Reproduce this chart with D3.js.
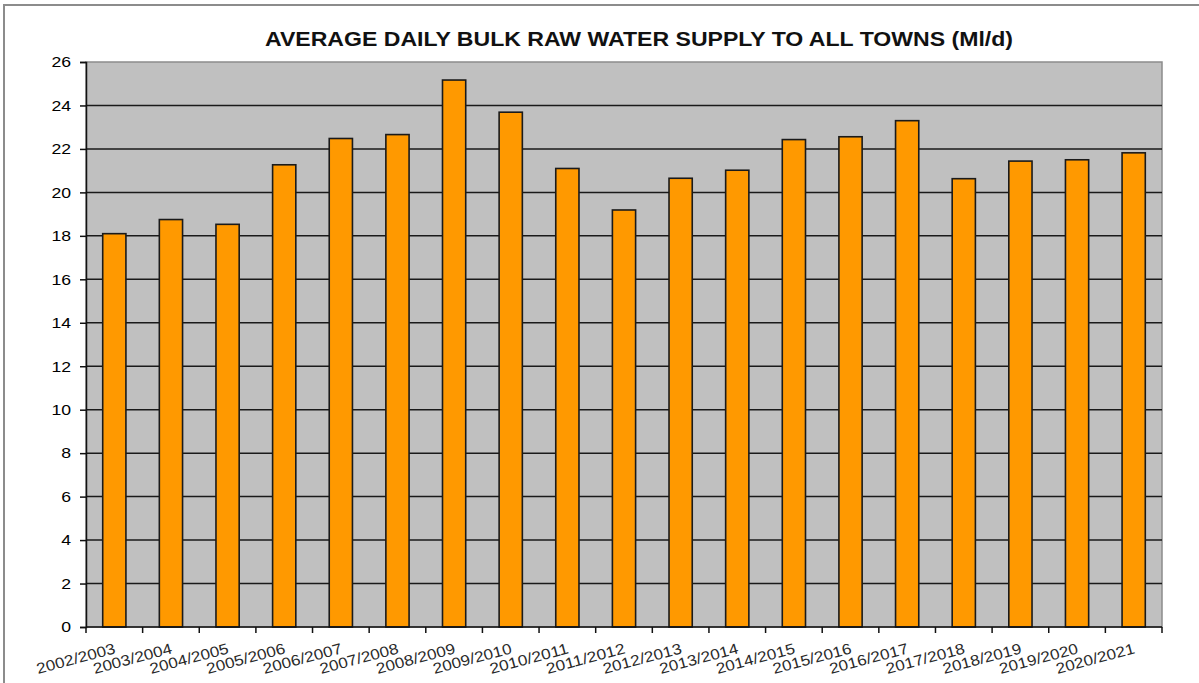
<!DOCTYPE html>
<html>
<head>
<meta charset="utf-8">
<script src="https://cdn.jsdelivr.net/npm/d3@7"></script>
<style>
  body { margin: 0; background: #fff; }
  svg { display: block; font-family: "Liberation Sans", Arial, sans-serif; }
</style>
</head>
<body>
<div class="box"></div>
<script>
// data
const years = ['2002/2003', '2003/2004', '2004/2005', '2005/2006', '2006/2007',
  '2007/2008', '2008/2009', '2009/2010', '2010/2011', '2011/2012', '2012/2013',
  '2013/2014', '2014/2015', '2015/2016', '2016/2017', '2017/2018', '2018/2019',
  '2019/2020', '2020/2021'];
const supply = [18.1, 18.75, 18.53, 21.27, 22.48, 22.66, 25.17, 23.69, 21.1, 19.19,
  20.65, 21.02, 22.43, 22.56, 23.3, 20.63, 21.44, 21.5, 21.82];
const yTicks = [0, 2, 4, 6, 8, 10, 12, 14, 16, 18, 20, 22, 24, 26];
const title = 'AVERAGE DAILY BULK RAW WATER SUPPLY TO ALL TOWNS (Ml/d)';

const width = 1199, height = 683;
const plot = { left: 86, right: 1162, top: 62, bottom: 627 };

const svg = d3.select('.box').append('svg')
  .attr('width', width)
  .attr('height', height);

// outer chart frame
svg.append('rect')
  .attr('x', 4).attr('y', 5)
  .attr('width', 1300).attr('height', 800)
  .attr('fill', 'none')
  .attr('stroke', '#8c8c8c')
  .attr('stroke-width', 2);

svg.append('text')
  .attr('x', 639).attr('y', 46)
  .attr('text-anchor', 'middle')
  .attr('font-size', 21)
  .attr('font-weight', 'bold')
  .attr('fill', '#111')
  .attr('textLength', 748)
  .attr('lengthAdjust', 'spacingAndGlyphs')
  .text(title);

const x = d3.scaleBand()
  .domain(years)
  .range([plot.left, plot.right])
  .paddingInner(0.59)
  .paddingOuter(0.295);

const y = d3.scaleLinear()
  .domain([0, 26])
  .range([plot.bottom, plot.top]);

// plot area
svg.append('rect')
  .attr('x', plot.left).attr('y', plot.top)
  .attr('width', plot.right - plot.left)
  .attr('height', plot.bottom - plot.top)
  .attr('fill', '#c0c0c0')
  .attr('stroke', '#8c8c8c')
  .attr('stroke-width', 1.5);

// gridlines
svg.append('g')
  .selectAll('line')
  .data(yTicks.filter(d => d > 0 && d < 26))
  .join('line')
  .attr('x1', plot.left).attr('x2', plot.right)
  .attr('y1', d => y(d)).attr('y2', d => y(d))
  .attr('stroke', '#1a1a1a')
  .attr('stroke-width', 1.5);

// bars
svg.append('g')
  .selectAll('rect')
  .data(supply)
  .join('rect')
  .attr('x', (d, i) => x(years[i]))
  .attr('y', d => y(d))
  .attr('width', x.bandwidth())
  .attr('height', d => y(0) - y(d))
  .attr('fill', '#ff9900')
  .attr('stroke', '#1a1a1a')
  .attr('stroke-width', 1.6);

// y axis
const yAxis = svg.append('g')
  .attr('transform', `translate(${plot.left},0)`)
  .call(d3.axisLeft(y).tickValues(yTicks).tickSize(6).tickPadding(9));
yAxis.select('.domain').attr('stroke', '#111').attr('stroke-width', 1.5);
yAxis.selectAll('.tick line').attr('stroke', '#111').attr('stroke-width', 1.5);
yAxis.selectAll('.tick text')
  .attr('font-size', 15)
  .attr('fill', '#000')
  .attr('font-family', '"Liberation Sans", Arial, sans-serif')
  .attr('textLength', d => String(d).length * 9.8)
  .attr('lengthAdjust', 'spacingAndGlyphs');

// x axis line and ticks at band boundaries
const step = x.step();
const boundaries = d3.range(years.length + 1).map(i => plot.left + i * step);
svg.append('line')
  .attr('x1', plot.left).attr('x2', plot.right)
  .attr('y1', plot.bottom).attr('y2', plot.bottom)
  .attr('stroke', '#111').attr('stroke-width', 1.5);
svg.append('g')
  .selectAll('line')
  .data(boundaries)
  .join('line')
  .attr('x1', d => d).attr('x2', d => d)
  .attr('y1', plot.bottom).attr('y2', plot.bottom + 6)
  .attr('stroke', '#111').attr('stroke-width', 1.5);

// x labels, rotated
svg.append('g')
  .selectAll('text')
  .data(years)
  .join('text')
  .attr('transform', d => `translate(${x(d) + x.bandwidth() / 2 + 2},653) rotate(-15)`)
  .attr('text-anchor', 'end')
  .attr('font-size', 15)
  .attr('fill', '#2a2a2a')
  .attr('textLength', 81)
  .attr('lengthAdjust', 'spacingAndGlyphs')
  .text(d => d);
</script>
</body>
</html>
